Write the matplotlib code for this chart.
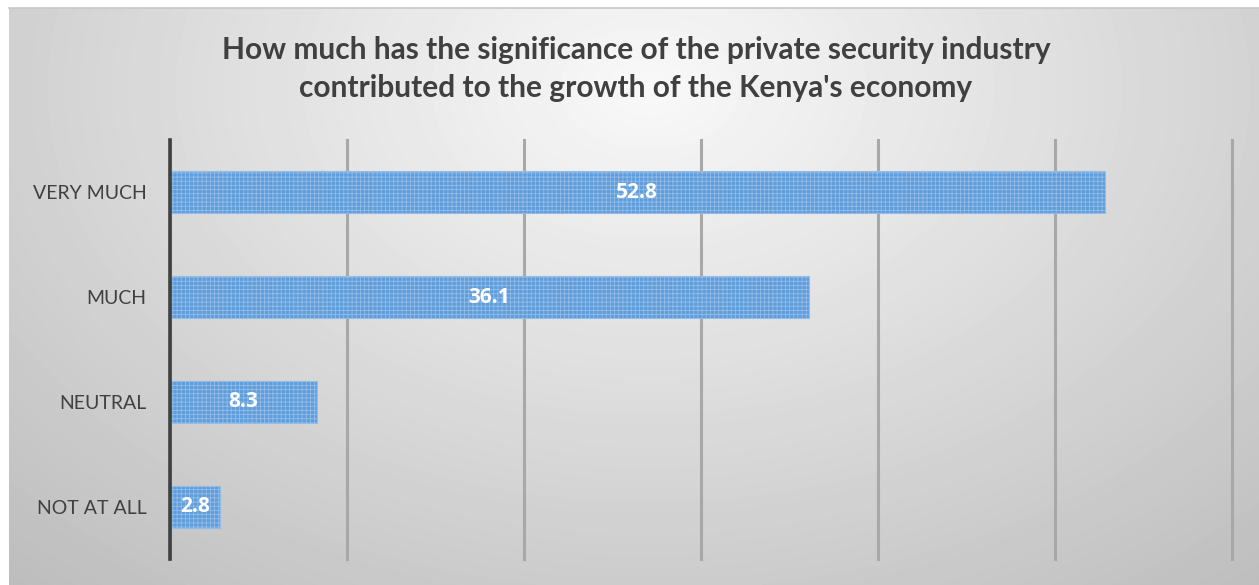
import numpy as np
import matplotlib.pyplot as plt

categories = ["NOT AT ALL", "NEUTRAL", "MUCH", "VERY MUCH"]
values = [2.8, 8.3, 36.1, 52.8]
ticks = [0, 10, 20, 30, 40, 50, 60]

plt.rcParams['hatch.linewidth'] = 0.6

W, H = 1259, 585
fig = plt.figure(figsize=(W / 100, H / 100), dpi=100)
fig.patch.set_facecolor("white")

# grey radial backdrop behind the chart area
bg = fig.add_axes([9 / W, 0, 1 - 9 / W, (H - 8) / H], zorder=0)
yy, xx = np.mgrid[0:577, 0:1250]
cx, cy = 640, 80
d = np.sqrt(((xx - cx) / 900.0) ** 2 + ((yy - cy) / 620.0) ** 2)
shade = np.clip(0.975 - 0.22 * d, 0.74, 0.975)
bg.imshow(shade, cmap="gray", vmin=0, vmax=1, aspect="auto", interpolation="bilinear")
bg.set_axis_off()
fig.add_artist(plt.Line2D([9 / W, 1], [(H - 8) / H] * 2, color="#c8c8c8", lw=1.2))

ax = fig.add_axes([170 / W, 26 / H, (1232 - 170) / W, (559 - 140) / H], zorder=1)
ax.patch.set_alpha(0)

y = np.arange(len(categories))
bars = ax.barh(y, values, height=0.4, color="#5f9ddb", edgecolor="#93bde8",
               hatch="++++", linewidth=0.8, zorder=3)
for b, v in zip(bars, values):
    ax.text(b.get_width() / 2, b.get_y() + b.get_height() / 2, f"{v:.1f}",
            ha="center", va="center", color="white", fontsize=15,
            fontweight="bold", family="Open Sans", zorder=4)

ax.set_xlim(0, 60)
ax.set_ylim(-0.5, len(categories) - 0.5)
ax.set_xticks(ticks)
ax.set_xticklabels([])
ax.tick_params(axis="x", length=0)
ax.set_yticks(y)
ax.set_yticklabels(categories, fontsize=14, color="#404040", family="Lato")
ax.tick_params(axis="y", length=0, pad=17)
ax.grid(axis="x", color="#a8a8a8", lw=2.2, zorder=1)
for gl in ax.get_xgridlines():
    gl.set_clip_on(False)
for s in ["top", "right", "bottom"]:
    ax.spines[s].set_visible(False)
ax.spines["left"].set_color("#404040")
ax.spines["left"].set_linewidth(2.6)
ax.spines["left"].set_zorder(5)

fig.text(636 / W, 1 - 69 / H,
         "How much has the significance of the private security industry\n"
         "contributed to the growth of the Kenya's economy",
         ha="center", va="center", fontsize=21.5, fontweight="bold",
         color="#404040", family="Lato", linespacing=1.45)

fig.savefig("out.png", dpi=100)
